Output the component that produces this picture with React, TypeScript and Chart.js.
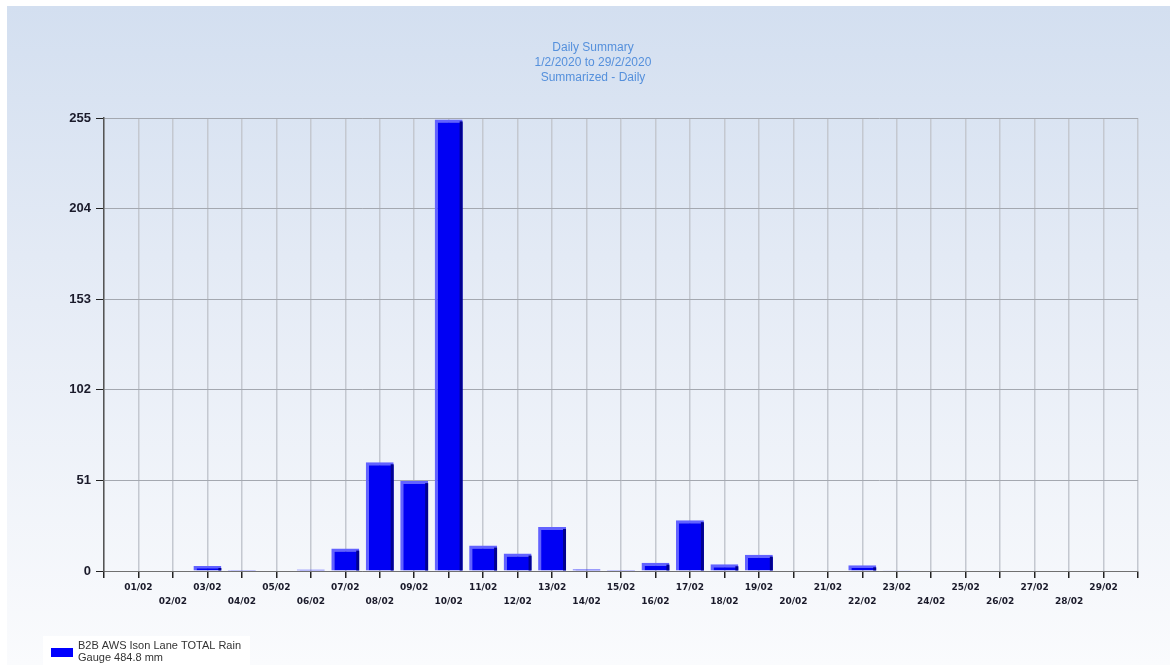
import React, { useEffect, useRef } from "react";
import { Chart, registerables } from "chart.js";

Chart.register(...registerables);

const days: string[] = [
  "01/02", "02/02", "03/02", "04/02", "05/02", "06/02", "07/02", "08/02", "09/02", "10/02",
  "11/02", "12/02", "13/02", "14/02", "15/02", "16/02", "17/02", "18/02", "19/02", "20/02",
  "21/02", "22/02", "23/02", "24/02", "25/02", "26/02", "27/02", "28/02", "29/02",
];

const rainfall: number[] = [
  0, 0, 2.8, 0.6, 0, 0.8, 12.6, 61.2, 50.6, 254.2,
  14.3, 9.8, 24.8, 1.0, 0.5, 4.7, 28.6, 3.8, 9.2, 0,
  0, 3.2, 0.4, 0, 0, 0, 0, 0, 0,
];

const yTicks: number[] = [0, 51, 102, 153, 204, 255];

const titleLines: string[] = ["Daily Summary", "1/2/2020 to 29/2/2020", "Summarized - Daily"];
const legendLines: string[] = ["B2B AWS Ison Lane TOTAL Rain", "Gauge 484.8 mm"];

export default function App() {
  const canvasRef = useRef<HTMLCanvasElement | null>(null);

  useEffect(() => {
    if (!canvasRef.current) return;

    // pad the category axis with an empty slot on each side
    const labels: (string | string[])[] = ["", ...days.map((d, i) => (i % 2 === 0 ? [d, ""] : ["", d])), ""];
    const values: (number | null)[] = [null, ...rainfall, null];

    const decoPlugin = {
      id: "deco",
      afterDatasetsDraw(chart: any) {
        const ctx = chart.ctx;
        const meta = chart.getDatasetMeta(0);
        ctx.save();
        meta.data.forEach((bar: any) => {
          const p = bar.getProps(["x", "y", "base", "width"], true);
          if (p.y == null || isNaN(p.y) || p.base - p.y < 2) return;
          const right = p.x + p.width / 2;
          ctx.fillStyle = "#000090";
          ctx.fillRect(right - 3, p.y + 2, 3, p.base - p.y - 2);
        });
        ctx.restore();
      },
      afterDraw(chart: any) {
        const ctx = chart.ctx;
        ctx.save();
        // title
        ctx.fillStyle = "#5590dc";
        ctx.font = "12px 'Liberation Sans', Arial, sans-serif";
        ctx.textAlign = "center";
        ctx.textBaseline = "middle";
        const cx = chart.width / 2 + 4.5;
        titleLines.forEach((t, i) => ctx.fillText(t, cx, 42 + i * 15));
        // legend
        ctx.fillStyle = "#ffffff";
        ctx.fillRect(36, 630, 207, 40);
        ctx.fillStyle = "#0000ff";
        ctx.fillRect(44, 642, 22, 9);
        ctx.fillStyle = "#333333";
        ctx.font = "11px 'Liberation Sans', Arial, sans-serif";
        ctx.textAlign = "left";
        legendLines.forEach((t, i) => ctx.fillText(t, 71, 640 + i * 12));
        ctx.restore();
      },
    };

    const chart = new Chart(canvasRef.current, {
      type: "bar",
      data: {
        labels,
        datasets: [
          {
            label: legendLines.join(" "),
            data: values,
            backgroundColor: "#0000f4",
            borderColor: "#6262ff",
            borderWidth: { top: 3, left: 3, right: 0, bottom: 0 },
            borderSkipped: false,
            barPercentage: 0.81,
            categoryPercentage: 1,
          },
        ],
      },
      options: {
        animation: false,
        responsive: false,
        maintainAspectRatio: false,
        layout: { padding: { top: 112, right: 32, left: 0, bottom: 0 } },
        plugins: {
          legend: { display: false },
          title: { display: false },
          tooltip: { enabled: false },
        },
        scales: {
          x: {
            type: "category",
            offset: false,
            border: { display: true, color: "#707070", width: 1 },
            grid: {
              display: true,
              offset: false,
              color: "#c4c8d0",
              lineWidth: 1.5,
              drawTicks: true,
              tickLength: 7,
              tickColor: "#222222",
              tickWidth: 1.5,
            },
            ticks: {
              autoSkip: false,
              maxRotation: 0,
              minRotation: 0,
              padding: 3,
              color: "#1a1a2a",
              font: { family: "'DejaVu Sans', Verdana, sans-serif", size: 9, weight: "bold", lineHeight: 1.55 },
            },
            afterFit(scale: any) {
              scale.height = 94;
            },
          },
          y: {
            type: "linear",
            min: 0,
            max: 255,
            border: { display: true, color: "#555555", width: 1.5 },
            grid: {
              display: true,
              color: "#a4a8b0",
              lineWidth: 1,
              drawTicks: true,
              tickLength: 8,
              tickColor: "#222222",
            },
            afterBuildTicks(scale: any) {
              scale.ticks = yTicks.map((v) => ({ value: v }));
            },
            ticks: {
              padding: 5,
              color: "#1a1a2a",
              font: { family: "'Liberation Sans', Arial, sans-serif", size: 13, weight: "bold" },
            },
            afterFit(scale: any) {
              scale.width = 97;
            },
          },
        },
      },
      plugins: [decoPlugin],
    } as any);

    return () => chart.destroy();
  }, []);

  return (
    <div
      style={{
        position: "absolute",
        left: 7,
        top: 6,
        width: 1163,
        height: 659,
        background: "linear-gradient(to bottom, #d3dff0 0%, #e6ecf6 45%, #fafbfd 100%)",
      }}
    >
      <canvas ref={canvasRef} width={1163} height={659} style={{ display: "block" }} />
    </div>
  );
}
